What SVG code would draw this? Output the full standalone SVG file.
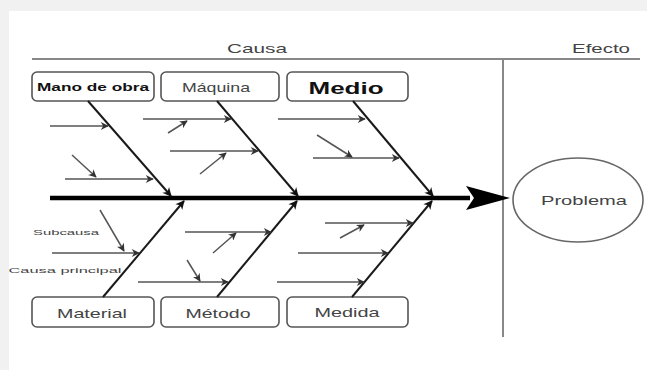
<svg xmlns="http://www.w3.org/2000/svg" width="647" height="370" viewBox="0 0 647 370">
<defs>
<marker id="ah" viewBox="0 0 10 10" refX="9" refY="5" markerWidth="9" markerHeight="8" markerUnits="userSpaceOnUse" orient="auto"><path d="M0,0 L10,5 L0,10 L3,5 z" fill="#333"/></marker>
<marker id="bh" viewBox="0 0 10 10" refX="9" refY="5" markerWidth="11" markerHeight="9" markerUnits="userSpaceOnUse" orient="auto"><path d="M0,0 L10,5 L0,10 L3,5 z" fill="#111"/></marker>
<style>
.box{fill:#fff;stroke:#555;stroke-width:1.6}
.t{font-family:"Liberation Sans",Arial,sans-serif;fill:#444;text-anchor:middle}
.b{font-weight:bold;fill:#111}
.bone{stroke:#1a1a1a;stroke-width:2;fill:none;marker-end:url(#bh)}
.sub{stroke:#555;stroke-width:1.5;fill:none;marker-end:url(#ah)}
.frame{stroke:#888;stroke-width:2;fill:none}
</style>
</defs>
<rect x="0" y="0" width="647" height="370" fill="#f1f1f1"/>
<rect x="9" y="11" width="638" height="359" fill="#fff"/>
<g id="frame">
<line class="frame" x1="32" y1="59" x2="640" y2="59"/>
<line class="frame" x1="503" y1="59" x2="503" y2="337"/>
<text class="t" x="257" y="53" font-size="13" textLength="60" lengthAdjust="spacingAndGlyphs">Causa</text>
<text class="t" x="601" y="53" font-size="13" textLength="58" lengthAdjust="spacingAndGlyphs">Efecto</text>
</g>
<g id="mano"><rect class="box" x="32" y="72" width="122" height="29" rx="5"/><text class="t b" x="93" y="91" font-size="11" textLength="112" lengthAdjust="spacingAndGlyphs">Mano de obra</text></g>
<g id="maquina"><rect class="box" x="161" y="72" width="118" height="29" rx="5"/><text class="t" x="216" y="92" font-size="13" textLength="68" lengthAdjust="spacingAndGlyphs">Máquina</text></g>
<g id="medio"><rect class="box" x="287" y="72" width="121" height="29" rx="5"/><text class="t b" x="346" y="94" font-size="17" textLength="75" lengthAdjust="spacingAndGlyphs">Medio</text></g>
<g id="material"><rect class="box" x="32" y="297" width="122" height="30" rx="5"/><text class="t" x="92" y="318" font-size="13" textLength="70" lengthAdjust="spacingAndGlyphs">Material</text></g>
<g id="metodo"><rect class="box" x="161" y="297" width="118" height="30" rx="5"/><text class="t" x="218" y="318" font-size="13" textLength="65" lengthAdjust="spacingAndGlyphs">Método</text></g>
<g id="medida"><rect class="box" x="287" y="297" width="121" height="30" rx="5"/><text class="t" x="347" y="317" font-size="13" textLength="65" lengthAdjust="spacingAndGlyphs">Medida</text></g>
<g id="problema"><ellipse cx="578" cy="200" rx="65" ry="42" fill="#fff" stroke="#666" stroke-width="1.6"/><text class="t" x="584" y="205" font-size="13" textLength="86" lengthAdjust="spacingAndGlyphs">Problema</text></g>
<g id="labels">
<text class="t" x="66" y="235" font-size="8" textLength="66" lengthAdjust="spacingAndGlyphs">Subcausa</text>
<text class="t" x="65" y="273" font-size="8" textLength="113" lengthAdjust="spacingAndGlyphs">Causa principal</text>
</g>
<g id="connectors">
<line x1="50" y1="198" x2="470" y2="198" stroke="#000" stroke-width="4.5"/>
<path d="M510,198 L466,186 L474,198 L466,210 z" fill="#000"/>
<line class="bone" x1="88" y1="101" x2="171" y2="196"/>
<line class="bone" x1="217" y1="101" x2="298" y2="196"/>
<line class="bone" x1="353" y1="101" x2="433" y2="196"/>
<line class="bone" x1="103" y1="297" x2="184" y2="201"/>
<line class="bone" x1="217" y1="297" x2="297" y2="201"/>
<line class="bone" x1="352" y1="297" x2="432" y2="201"/>
<line class="sub" x1="50" y1="126" x2="108" y2="126"/>
<line class="sub" x1="65" y1="179" x2="153" y2="179"/>
<line class="sub" x1="72" y1="155" x2="96" y2="177"/>
<line class="sub" x1="143" y1="119" x2="231" y2="119"/>
<line class="sub" x1="170" y1="151" x2="258" y2="151"/>
<line class="sub" x1="168" y1="133" x2="187" y2="121"/>
<line class="sub" x1="200" y1="174" x2="226" y2="153"/>
<line class="sub" x1="278" y1="119" x2="365" y2="119"/>
<line class="sub" x1="313" y1="158" x2="399" y2="158"/>
<line class="sub" x1="317" y1="135" x2="352" y2="157"/>
<line class="sub" x1="52" y1="253" x2="139" y2="253"/>
<line class="sub" x1="100" y1="210" x2="124" y2="251"/>
<line class="sub" x1="185" y1="232" x2="271" y2="232"/>
<line class="sub" x1="138" y1="282" x2="228" y2="282"/>
<line class="sub" x1="213" y1="253" x2="236" y2="233"/>
<line class="sub" x1="187" y1="260" x2="200" y2="281"/>
<line class="sub" x1="325" y1="223" x2="413" y2="223"/>
<line class="sub" x1="298" y1="253" x2="388" y2="253"/>
<line class="sub" x1="277" y1="282" x2="364" y2="282"/>
<line class="sub" x1="340" y1="238" x2="364" y2="225"/>
</g>
</svg>
